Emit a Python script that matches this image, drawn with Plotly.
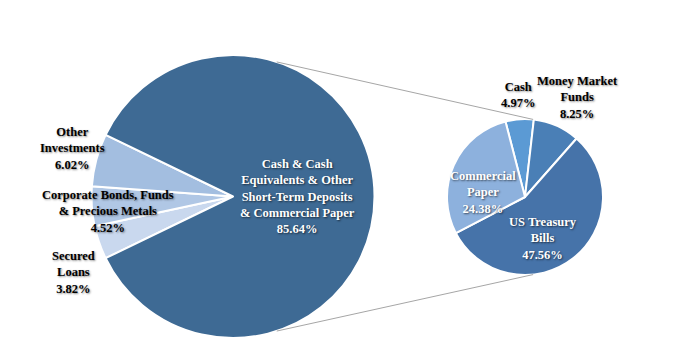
import math
import plotly.graph_objects as go

# page body has an 8px default margin; figure is drawn at (8, 8)
OFF = 8
W, H = 673, 348

# ---- data ----
main_labels = ["Secured Loans", "Corporate Bonds, Funds & Precious Metals", "Other Investments",
               "Cash & Cash Equivalents & Other Short-Term Deposits & Commercial Paper"]
main_values = [3.82, 4.52, 6.02, 85.64]
main_text = ["Secured<br>Loans<br>3.82%",
             "Corporate Bonds, Funds<br>& Precious Metals<br>4.52%",
             "Other<br>Investments<br>6.02%",
             "Cash & Cash<br>Equivalents & Other<br>Short-Term Deposits<br>& Commercial Paper<br>85.64%"]
main_colors = ["#c9d8ee", "#b0c7e5", "#a3bee0", "#3e6a94"]

sub_labels = ["Cash", "Money Market Funds", "US Treasury Bills", "Commercial Paper"]
sub_values = [4.97, 8.25, 47.56, 24.38]
sub_text = ["Cash<br>4.97%", "Money Market<br>Funds<br>8.25%", "US Treasury<br>Bills<br>47.56%",
            "Commercial<br>Paper<br>24.38%"]
sub_colors = ["#5b9ad4", "#4a7fb6", "#4673a9", "#8db1dd"]

# ---- geometry (window pixels) ----
L_cx, L_cy, L_r = 233, 196.5, 141.5
R_cx, R_cy, R_r = 525, 197, 78


def fx(px):
    return (px - OFF) / W


def fy(py):
    return 1 - (py - OFF) / H


def dom(cx, cy, r):
    return dict(x=[fx(cx - r), fx(cx + r)], y=[fy(cy + r), fy(cy - r)])


small_share = sum(main_values[:3]) / sum(main_values) * 360
main_rot = 270 - small_share / 2

fig = go.Figure()
fig.add_trace(go.Pie(values=main_values, labels=main_labels, sort=False, direction="clockwise",
                     rotation=main_rot, domain=dom(L_cx, L_cy, L_r), textinfo="none",
                     hoverinfo="label+value",
                     marker=dict(colors=main_colors, line=dict(color="white", width=2)),
                     showlegend=False))
fig.add_trace(go.Pie(values=sub_values, labels=sub_labels, sort=False, direction="clockwise",
                     rotation=-14.5, domain=dom(R_cx, R_cy, R_r), textinfo="none",
                     hoverinfo="label+value",
                     marker=dict(colors=sub_colors, line=dict(color="white", width=2)),
                     showlegend=False))


# connector lines
def pt(cx, cy, r, ang):  # ang clockwise from 12 o'clock, degrees
    a = math.radians(ang)
    return fx(cx + r * math.sin(a)), fy(cy - r * math.cos(a))


for a1, a2 in [(18, 6), (162, 174)]:
    x0, y0 = pt(L_cx, L_cy, L_r, a1)
    x1, y1 = pt(R_cx, R_cy, R_r, a2)
    fig.add_shape(type="line", xref="paper", yref="paper", x0=x0, y0=y0, x1=x1, y1=y1,
                  line=dict(color="#a6a6a6", width=1))

# labels (window pixel centre positions)
label_pos = [
    (main_text[0], 73, 272, "black"),
    (main_text[1], 108, 211, "black"),
    (main_text[2], 72, 148, "black"),
    (main_text[3], 297, 196, "white"),
    (sub_text[0], 518, 95, "black"),
    (sub_text[1], 577, 97, "black"),
    (sub_text[2], 543, 238, "white"),
    (sub_text[3], 483, 192, "white"),
]
for txt, px, py, col in label_pos:
    shadow = "1px 1px 2px rgba(0,0,0,0.45)" if col == "black" else "1px 1px 2px rgba(0,0,0,0.6)"
    fig.add_annotation(text=txt, x=fx(px), y=fy(py), xref="paper", yref="paper",
                       showarrow=False, xanchor="center", yanchor="middle", align="center",
                       font=dict(family="Liberation Serif, Times New Roman, serif", size=12.5,
                                 color=col, weight="bold", shadow=shadow))

fig.update_layout(width=W, height=H, margin=dict(l=0, r=0, t=0, b=0),
                  paper_bgcolor="white", plot_bgcolor="white")
fig.write_html("out.html")
